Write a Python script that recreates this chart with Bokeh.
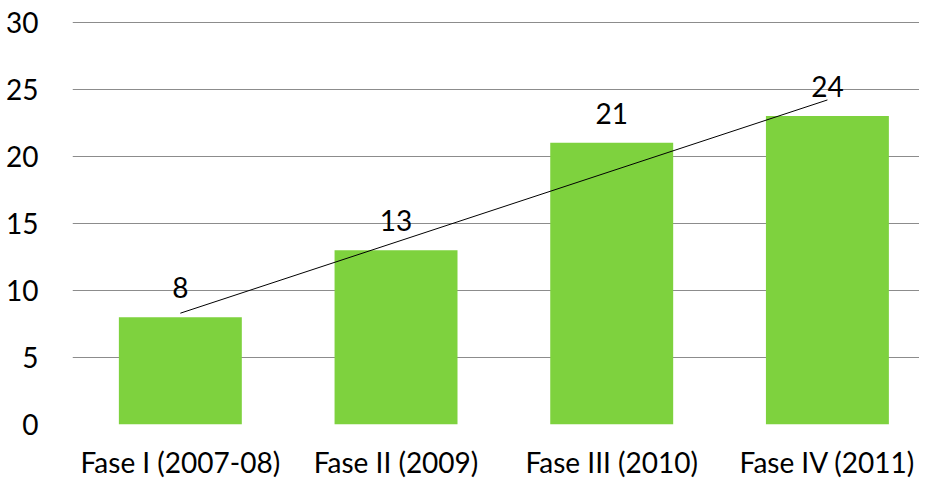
import numpy as np
from bokeh.plotting import figure
from bokeh.models import ColumnDataSource, Range1d, FixedTicker, LabelSet
from bokeh.core.properties import value
from bokeh.embed import file_html
from bokeh.resources import INLINE

categories = ["Fase I (2007-08)", "Fase II (2009)", "Fase III (2010)", "Fase IV (2011)"]
values = [8, 13, 21, 23]
labels = ["8", "13", "21", "24"]
y_ticks = [0, 5, 10, 15, 20, 25, 30]

FONT = "Lato"
FS = "28px"
xs = list(range(1, len(categories) + 1))

p = figure(width=919, height=481, output_backend="svg", toolbar_location=None,
           x_range=Range1d(0.5, 4.427), y_range=Range1d(0, 30.05),
           min_border_left=72, min_border_right=0, min_border_top=21, min_border_bottom=50)
p.outline_line_color = None

src = ColumnDataSource(dict(x=xs, top=values, label=labels))
p.vbar(x="x", top="top", width=0.57, bottom=0, source=src, fill_color="#7ED23E", line_color=None)

# linear trendline fitted to the series
coef = np.polyfit(xs, values, 1)
tx = [xs[0], xs[-1]]
ty = [coef[0] * t + coef[1] for t in tx]
p.line(tx, ty, line_color="#000000", line_width=1)

lbls = LabelSet(x="x", y="top", text="label", source=src, y_offset=19,
                text_align="center", text_baseline="alphabetic",
                text_font=value(FONT), text_font_size=value(FS), text_color="#000000")
p.add_layout(lbls)

p.xgrid.grid_line_color = None
p.ygrid.grid_line_color = "#8c8c8c"
p.ygrid.grid_line_width = 1
p.ygrid.ticker = FixedTicker(ticks=y_ticks)

p.yaxis.ticker = FixedTicker(ticks=y_ticks)
p.xaxis.ticker = FixedTicker(ticks=xs)
p.xaxis.major_label_overrides = {x: c for x, c in zip(xs, categories)}
for ax in (p.xaxis, p.yaxis):
    ax.axis_line_color = None
    ax.major_tick_line_color = None
    ax.minor_tick_line_color = None
    ax.major_label_text_font = FONT
    ax.major_label_text_font_size = FS
    ax.major_label_text_color = "#000000"
p.yaxis.major_label_standoff = 28
p.xaxis.major_label_standoff = 14

open("out.html", "w").write(file_html(p, INLINE))
